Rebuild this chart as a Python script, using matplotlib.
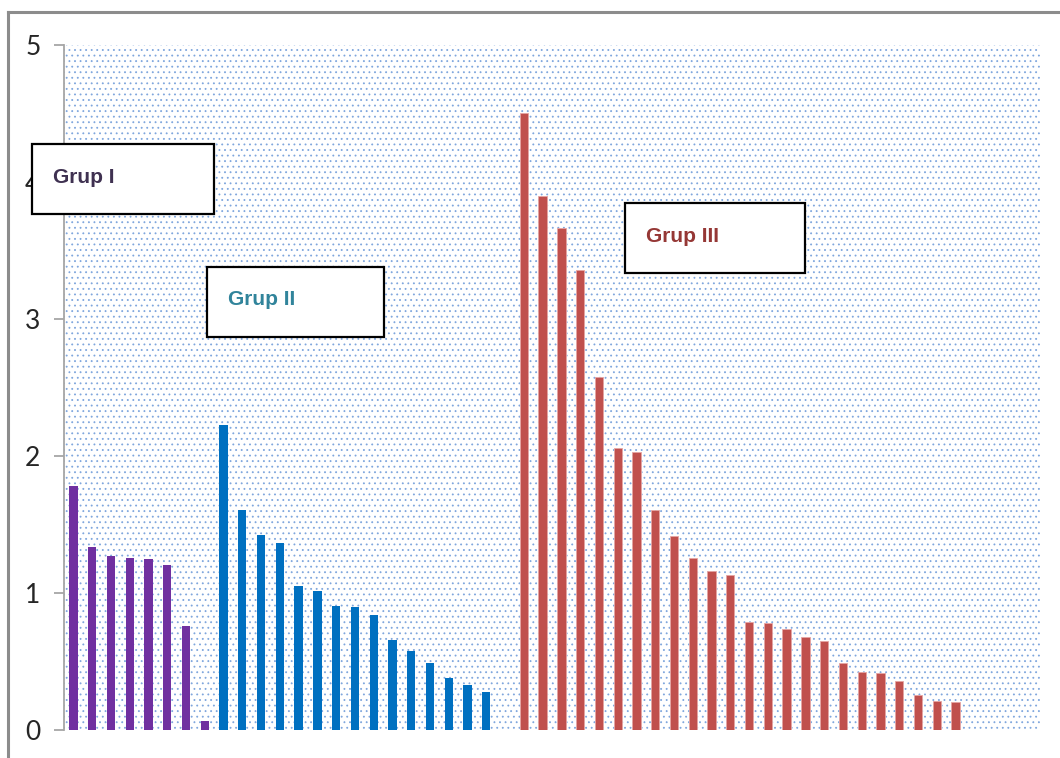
import numpy as np
import matplotlib.pyplot as plt
from matplotlib.patches import Rectangle
from matplotlib.lines import Line2D

# values (three groups, sorted descending)
grup1 = [1.78, 1.334, 1.27, 1.258, 1.246, 1.204, 0.756, 0.065]
grup2 = [2.228, 1.609, 1.426, 1.363, 1.053, 1.012, 0.904, 0.895, 0.841,
         0.660, 0.575, 0.490, 0.383, 0.329, 0.275]
grup3 = [4.506, 3.901, 3.665, 3.355, 2.58, 2.056, 2.026, 1.609, 1.416,
         1.258, 1.160, 1.129, 0.790, 0.778, 0.734, 0.680, 0.651, 0.487,
         0.424, 0.414, 0.361, 0.256, 0.212, 0.202]
n_slots = 52          # category slots on the x axis (some left empty)
gap = 1               # one empty slot between group II and group III

group_names = ['Grup I', 'Grup II', 'Grup III']
bar_colors = ['#7030A0', '#0070C0', '#C0504D']
text_colors = ['#3F3151', '#31849B', '#953735']

W, H = 1060, 758
fig = plt.figure(figsize=(W / 100, H / 100), dpi=100)
ax = fig.add_axes([64 / W, 1 - 730 / H, (1040 - 64) / W, (730 - 45) / H])

# dotted plot area
plt.rcParams['hatch.linewidth'] = 0.6
bg = Rectangle((0, 0), 1, 1, transform=ax.transAxes, facecolor='white',
               edgecolor='#7FA6DD', linewidth=0, hatch='...', zorder=0)
ax.add_patch(bg)

x1 = np.arange(len(grup1))
x2 = np.arange(len(grup2)) + len(grup1)
x3 = np.arange(len(grup3)) + len(grup1) + len(grup2) + gap
w = 0.44
ax.bar(x1, grup1, width=w, color=bar_colors[0], zorder=2)
ax.bar(x2, grup2, width=w, color=bar_colors[1], zorder=2)
ax.bar(x3, grup3, width=w, color=bar_colors[2], edgecolor='#E6A5A3',
       linewidth=0.6, zorder=2)

ax.set_xlim(-0.5, n_slots - 0.5)
ax.set_ylim(0, 5)
ax.set_yticks([0, 1, 2, 3, 4, 5])
ax.set_xticks([])
for s in ['top', 'right', 'bottom']:
    ax.spines[s].set_visible(False)
ax.spines['left'].set_color('#A6A6A6')
ax.spines['left'].set_linewidth(1.3)
ax.tick_params(axis='y', length=7, width=1.3, color='#A6A6A6', pad=10,
               labelsize=19, labelcolor='#262626')
for lab in ax.get_yticklabels():
    lab.set_fontfamily('Lato')

# outer frame (top and left edges visible)
fig.add_artist(Line2D([8 / W, 1], [1 - 12 / H, 1 - 12 / H], color='#8C8C8C', lw=2.2))
fig.add_artist(Line2D([8 / W, 8 / W], [0, 1 - 12 / H], color='#8C8C8C', lw=2.2))

# group label boxes
boxes = [(32, 144, 214, 214), (207, 267, 384, 337), (625, 203, 805, 273)]
baselines = [(53, 183), (228, 305), (646, 242)]
for name, (l, t, r, b), (tx, ty), c in zip(group_names, boxes, baselines, text_colors):
    fig.add_artist(Rectangle((l / W, 1 - b / H), (r - l) / W, (b - t) / H,
                             transform=fig.transFigure, facecolor='white',
                             edgecolor='black', linewidth=1.6, zorder=5))
    fig.text(tx / W, 1 - ty / H, name, color=c, fontsize=15, fontweight='bold',
             family='Liberation Sans', va='baseline', ha='left', zorder=6)

fig.savefig('out.png', dpi=100)
